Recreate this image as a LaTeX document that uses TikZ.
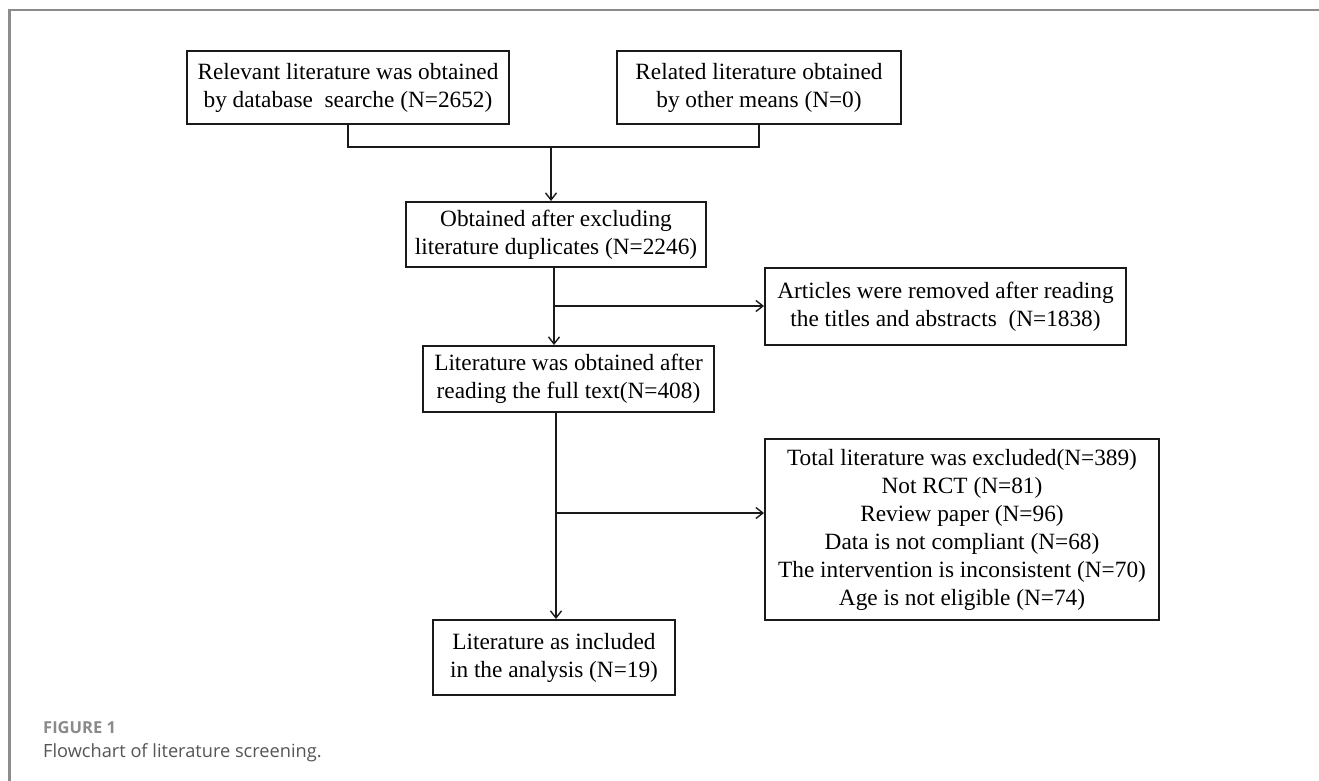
\documentclass[tikz,border=0pt]{standalone}
\usepackage{fontspec}
\setmainfont{Liberation Serif}
\newfontfamily\capfont{Open Sans}
\usetikzlibrary{arrows.meta,calc}
\definecolor{framegray}{HTML}{8C8C8C}
\definecolor{boxline}{HTML}{1A1A1A}
\definecolor{capgray}{HTML}{8A8A8A}
\definecolor{captext}{HTML}{555555}
\begin{document}
\begin{tikzpicture}[x=1pt,y=-1pt,
  fbox/.style={draw=boxline, line width=2pt, inner sep=0pt, align=center,
    font=\fontsize{23.3}{28}\selectfont},
  conn/.style={draw=boxline, line width=1.6pt},
  arr/.style={conn, -{Straight Barb[length=7pt,width=11pt,line width=1.4pt]}}
]
\useasboundingbox (0,0) rectangle (1319,780);
\fill[white] (0,0) rectangle (1319,780);
% frame
\draw[framegray, line width=2.2pt] (9.5,782) -- (9.5,10) -- (1321,10);

% boxes
\node[fbox, minimum width=322pt, minimum height=73pt] (db) at (348,87.5)
  {Relevant literature was obtained\\by database\ \ searche (N=2652)};
\node[fbox, minimum width=284pt, minimum height=73pt] (other) at (759,87.5)
  {Related literature obtained\\by other means (N=0)};
\node[fbox, minimum width=300pt, minimum height=65pt] (dup) at (556,234.5)
  {Obtained after excluding\\literature duplicates (N=2246)};
\node[fbox, minimum width=361pt, minimum height=77pt] (art) at (945.5,306.5)
  {Articles were removed after reading\\the titles and abstracts\ \ (N=1838)};
\node[fbox, minimum width=291pt, minimum height=66pt] (full) at (568.5,379)
  {Literature was obtained after\\reading the full text(N=408)};
\node[fbox, minimum width=394pt, minimum height=181pt] (excl) at (962,529.5)
  {Total literature was excluded(N=389)\\Not RCT (N=81)\\Review paper (N=96)\\Data is not compliant (N=68)\\The intervention is inconsistent (N=70)\\Age is not eligible (N=74)};
\node[fbox, minimum width=242pt, minimum height=75pt] (incl) at (554,657.5)
  {Literature as included\\in the analysis (N=19)};

% connectors
\coordinate (j) at (551,147);
\draw[conn] (db.south) |- (j) -| (other.south);
\draw[arr] (j) -- (dup.north -| j);
\coordinate (v1) at (554,267);
\coordinate (b1) at (554,306);
\draw[arr] (v1) -- (full.north -| v1);
\draw[arr] (b1) -- (art.west |- b1);
\coordinate (v2) at (556,412);
\coordinate (b2) at (556,513);
\draw[arr] (v2) -- (incl.north -| v2);
\draw[arr] (b2) -- (excl.west |- b2);

% caption
\node[anchor=base west, inner sep=0pt, text=capgray, font=\capfont\bfseries\fontsize{16.5}{19}\selectfont] (figlab) at (43,733) {FIGURE 1};
\node[anchor=base west, inner sep=0pt, text=captext, font=\capfont\fontsize{18.2}{22}\selectfont] (figcap) at (43,757) {Flowchart of literature screening.};
\end{tikzpicture}
\end{document}
